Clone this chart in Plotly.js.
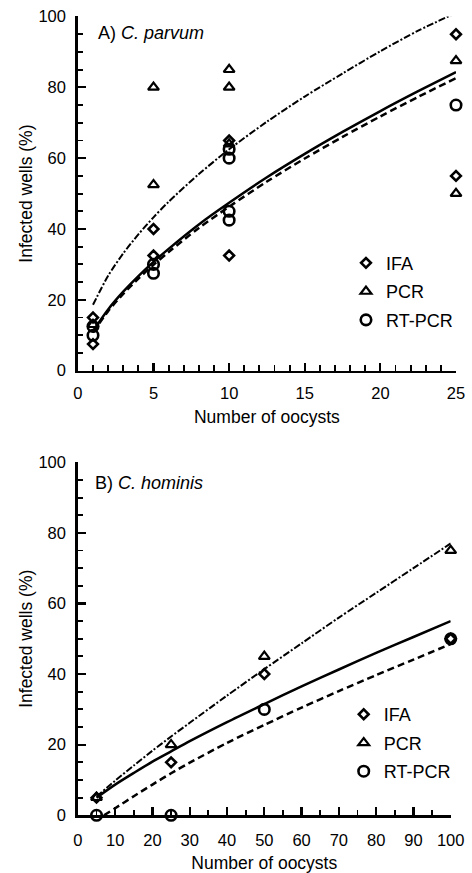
<!DOCTYPE html>
<html>
<head>
<meta charset="utf-8">
<script src="https://cdn.plot.ly/plotly-3.0.1.min.js"></script>
<style>
html,body{margin:0;padding:0;background:#fff;}
</style>
</head>
<body>
<div id="chart" style="width:472px;height:873px;"></div>
<script>
// ---------- Panel A: C. parvum (observed) ----------
const parvumIFA_x   = [1, 1, 5, 5, 10, 10, 25, 25];
const parvumIFA_y   = [15, 7.5, 40, 32.5, 65, 32.5, 95, 55];
const parvumPCR_x   = [1, 5, 5, 10, 10, 10, 25, 25];
const parvumPCR_y   = [13, 80, 52.5, 85, 80, 64, 87.5, 50];
const parvumRT_x    = [1, 1, 5, 5, 10, 10, 10, 10, 25];
const parvumRT_y    = [12.5, 10, 30, 27.5, 62.5, 60, 45, 42.5, 75];

// ---------- Panel A: fitted curves ----------
const parvumFit_x      = [1, 2, 3, 4, 5, 6, 8, 10, 12.5, 15, 17.5, 20, 22.5, 25];
const parvumFitPCR_y   = [18.6, 26.8, 33.1, 38.5, 43.3, 47.7, 55.5, 62.5, 70.3, 77.4, 83.9, 90.2, 96, 101];
const parvumFitIFA_y   = [11.2, 17.3, 22.3, 26.7, 30.7, 34.4, 41.3, 47.4, 54.6, 61.2, 67.4, 73.3, 78.9, 84.3];
const parvumFitRT_y    = [10.8, 16.8, 21.7, 26.0, 29.9, 33.5, 40.3, 46.3, 53.4, 59.9, 66.0, 71.8, 77.3, 82.6];

// ---------- Panel B: C. hominis (observed) ----------
const hominis_x      = [5, 25, 50, 100];
const hominisIFA_y   = [5, 15, 40, 50];
const hominisPCR_y   = [5, 20, 45, 75];
const hominisRT_y    = [0, 0, 30, 50];

// ---------- Panel B: fitted curves ----------
const hominisFit_x     = [5, 10, 15, 20, 25, 30, 40, 50, 60, 70, 80, 90, 100];
const hominisFitPCR_y  = [5.3, 9.8, 14.1, 18.3, 22.3, 26.2, 33.9, 41.4, 48.7, 56.0, 63.0, 70.0, 77.0];
const hominisFitIFA_y  = [5, 8.7, 12.0, 15.2, 18.1, 21.0, 26.4, 31.5, 36.5, 41.3, 46.0, 50.5, 55.0];
const hominisFitRT_x   = [7, 10, 15, 20, 25, 30, 40, 50, 60, 70, 80, 90, 100];
const hominisFitRT_y   = [0, 2, 5.4, 8.7, 11.9, 14.9, 20.5, 25.6, 30.5, 35.2, 39.7, 44.1, 48.5];

const seriesNames = ['IFA', 'PCR', 'RT-PCR'];
const panelLabels = ['A) <i>C. parvum</i>', 'B) <i>C. hominis</i>'];

const BLACK = '#000';
const mk = {
  IFA:   {symbol: 'diamond-open', size: 7.5, color: BLACK, line: {width: 2.6, color: BLACK}},
  PCR:   {symbol: 'triangle-up-open', size: 9.5, color: BLACK, line: {width: 2.2, color: BLACK}},
  RT:    {symbol: 'circle-open', size: 10.5, color: BLACK, line: {width: 2.6, color: BLACK}}
};
const lineStyles = {
  PCR: {color: BLACK, width: 2, dash: '7px,2px,2px,2px'},
  IFA: {color: BLACK, width: 2.5, dash: 'solid'},
  RT:  {color: BLACK, width: 2.5, dash: '7px,4px'}
};

function fit(x, y, xa, ya, style) {
  return {x: x, y: y, xaxis: xa, yaxis: ya, mode: 'lines', type: 'scatter',
          line: Object.assign({shape: 'spline', smoothing: 0.8}, style),
          showlegend: false, hoverinfo: 'skip', cliponaxis: false};
}
function pts(x, y, xa, ya, name, marker, legend, grp) {
  return {x: x, y: y, xaxis: xa, yaxis: ya, mode: 'markers', type: 'scatter',
          name: name, marker: marker, legend: legend, legendgroup: grp, cliponaxis: false};
}

const data = [
  fit(parvumFit_x, parvumFitPCR_y, 'x', 'y', lineStyles.PCR),
  fit(parvumFit_x, parvumFitIFA_y, 'x', 'y', lineStyles.IFA),
  fit(parvumFit_x, parvumFitRT_y,  'x', 'y', lineStyles.RT),
  pts(parvumIFA_x, parvumIFA_y, 'x', 'y', seriesNames[0], mk.IFA, 'legend', 'a1'),
  pts(parvumPCR_x, parvumPCR_y, 'x', 'y', seriesNames[1], mk.PCR, 'legend', 'a2'),
  pts(parvumRT_x,  parvumRT_y,  'x', 'y', seriesNames[2], mk.RT,  'legend', 'a3'),

  fit(hominisFit_x, hominisFitPCR_y, 'x2', 'y2', lineStyles.PCR),
  fit(hominisFit_x, hominisFitIFA_y, 'x2', 'y2', lineStyles.IFA),
  fit(hominisFitRT_x, hominisFitRT_y, 'x2', 'y2', lineStyles.RT),
  pts(hominis_x, hominisIFA_y, 'x2', 'y2', seriesNames[0], mk.IFA, 'legend2', 'b1'),
  pts(hominis_x, hominisPCR_y, 'x2', 'y2', seriesNames[1], mk.PCR, 'legend2', 'b2'),
  pts(hominis_x, hominisRT_y,  'x2', 'y2', seriesNames[2], mk.RT,  'legend2', 'b3')
];

function axis(extra) {
  return Object.assign({
    showgrid: false, zeroline: false, showline: true, linecolor: BLACK, linewidth: 2.6,
    ticks: 'inside', ticklen: 8, tickwidth: 2.2, tickcolor: BLACK,
    tickfont: {size: 16.5, color: BLACK}, fixedrange: true, automargin: false
  }, extra);
}
const minorX1 = {ticks: 'inside', ticklen: 5.5, tickwidth: 1.9, tickcolor: BLACK, dtick: 1};
const minorX2 = {ticks: 'inside', ticklen: 5.5, tickwidth: 1.9, tickcolor: BLACK, dtick: 5};
const minorY  = {ticks: 'inside', ticklen: 5.5, tickwidth: 1.9, tickcolor: BLACK, dtick: 5};
const xTitle = 'Number of oocysts';
const yTitle = 'Infected wells (%)';

const layout = {
  width: 472, height: 873,
  margin: {l: 0, r: 0, t: 0, b: 0},
  paper_bgcolor: '#fff', plot_bgcolor: '#fff',
  font: {family: '"Liberation Sans", Arial, sans-serif', size: 16, color: BLACK},
  showlegend: true,
  xaxis: axis({domain: [0.1650, 0.9661], range: [0, 25], anchor: 'y', tick0: 0, dtick: 5, minor: minorX1,
               ticklabelstandoff: 6, title: {text: xTitle, standoff: 10, font: {size: 17.5}}}),
  yaxis: axis({domain: [0.5754, 0.9811], range: [0, 100], anchor: 'x', tick0: 0, dtick: 20, minor: minorY,
               ticklabelstandoff: 6, title: {text: yTitle, standoff: 2, font: {size: 17.5}}}),
  xaxis2: axis({domain: [0.1650, 0.9549], range: [0, 100], anchor: 'y2', tick0: 0, dtick: 10, minor: minorX2,
               ticklabelstandoff: 8, title: {text: xTitle, standoff: 10, font: {size: 17.5}}}),
  yaxis2: axis({domain: [0.0661, 0.4705], range: [0, 100], anchor: 'x2', tick0: 0, dtick: 20, minor: minorY,
               ticklabelstandoff: 6, title: {text: yTitle, standoff: 2, font: {size: 17.5}}}),
  legend: {x: 0.7330, xanchor: 'left', y: 0.6659, yanchor: 'middle', bgcolor: 'rgba(0,0,0,0)',
           borderwidth: 0, font: {size: 18}, tracegroupgap: 2.1, traceorder: 'grouped'},
  legend2: {x: 0.7282, xanchor: 'left', y: 0.1489, yanchor: 'middle', bgcolor: 'rgba(0,0,0,0)',
           borderwidth: 0, font: {size: 18}, tracegroupgap: 2.1, traceorder: 'grouped'},
  annotations: [
    {xref: 'paper', yref: 'paper', x: 96 / 472, y: 1 - 33 / 873, xanchor: 'left', yanchor: 'middle',
     text: panelLabels[0], showarrow: false, font: {size: 18}},
    {xref: 'paper', yref: 'paper', x: 93 / 472, y: 1 - 483 / 873, xanchor: 'left', yanchor: 'middle',
     text: panelLabels[1], showarrow: false, font: {size: 18}}
  ]
};

Plotly.newPlot('chart', data, layout, {staticPlot: true, displayModeBar: false});
</script>
</body>
</html>
